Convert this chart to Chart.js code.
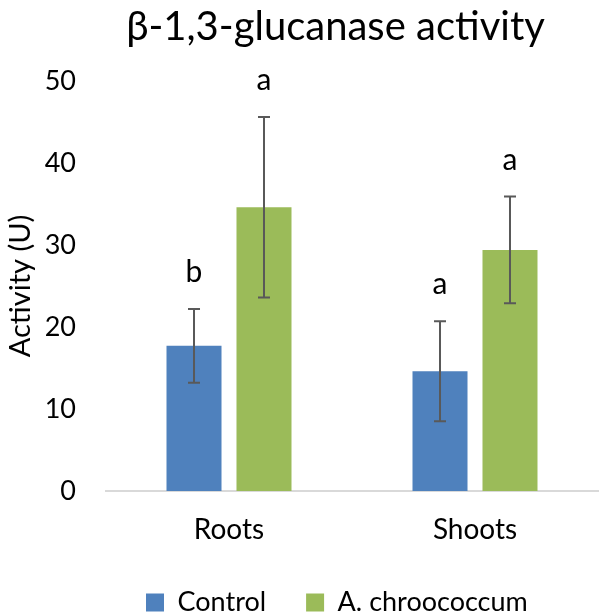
<!DOCTYPE html>
<html>
<head>
<meta charset="utf-8">
<script src="https://cdn.jsdelivr.net/npm/chart.js@4.4.0/dist/chart.umd.min.js"></script>
<style>
  html, body { margin: 0; padding: 0; background: #fff; }
  #wrap { width: 605px; height: 616px; }
</style>
</head>
<body>
<div id="wrap"><canvas id="chart"></canvas></div>
<script>
// data
var categories = ['Roots', 'Shoots'];
var controlValues = [17.7, 14.6];
var controlErr = [4.5, 6.1];
var controlLetters = ['b', 'a'];
var azotoValues = [34.6, 29.4];
var azotoErr = [11.0, 6.5];
var azotoLetters = ['a', 'a'];
var yTicks = [0, 10, 20, 30, 40, 50];
var chartTitle = 'β-1,3-glucanase activity';

var FONT = 'Lato, "Open Sans", sans-serif';

// title, centred a bit left of the plot like the original
var titlePlugin = {
    id: 'titlePlugin',
    afterDraw: function (chart) {
        var ctx = chart.ctx;
        ctx.save();
        ctx.fillStyle = '#000';
        ctx.font = '40px ' + FONT;
        ctx.textAlign = 'center';
        ctx.textBaseline = 'alphabetic';
        ctx.fillText(chartTitle, (chart.chartArea.left - 40 + chart.width) / 2, 40);
        ctx.restore();
    }
};

// error bars + significance letters
var errorBars = {
    id: 'errorBars',
    afterDatasetsDraw: function (chart) {
        var ctx = chart.ctx;
        var y = chart.scales.y;
        chart.data.datasets.forEach(function (ds, i) {
            var meta = chart.getDatasetMeta(i);
            meta.data.forEach(function (bar, j) {
                var v = ds.data[j], e = ds.err[j];
                var top = y.getPixelForValue(v + e);
                var bot = y.getPixelForValue(v - e);
                ctx.save();
                ctx.strokeStyle = '#595959';
                ctx.lineWidth = 2;
                ctx.beginPath();
                ctx.moveTo(bar.x, top); ctx.lineTo(bar.x, bot);
                ctx.moveTo(bar.x - 6, top); ctx.lineTo(bar.x + 6, top);
                ctx.moveTo(bar.x - 6, bot); ctx.lineTo(bar.x + 6, bot);
                ctx.stroke();
                ctx.fillStyle = '#000';
                ctx.font = '30px ' + FONT;
                ctx.textAlign = 'center';
                ctx.textBaseline = 'alphabetic';
                ctx.fillText(ds.letters[j], bar.x, top - 27);
                ctx.restore();
            });
        });
    }
};

var ctx = document.getElementById('chart').getContext('2d');
var myChart = new Chart(ctx, {
    type: 'bar',
    data: {
        labels: categories,
        datasets: [{
            label: 'Control',
            data: controlValues,
            err: controlErr,
            letters: controlLetters,
            backgroundColor: '#4F81BD',
            categoryPercentage: 0.569,
            barPercentage: 0.786
        }, {
            label: 'A. chroococcum',
            data: azotoValues,
            err: azotoErr,
            letters: azotoLetters,
            backgroundColor: '#9BBB59',
            categoryPercentage: 0.569,
            barPercentage: 0.786
        }]
    },
    options: {
        responsive: true,
        maintainAspectRatio: false,
        animation: false,
        layout: { padding: { left: 0, right: 7, top: 81, bottom: -10 } },
        scales: {
            x: {
                grid: { display: false, drawTicks: false },
                border: { display: true, color: '#D9D9D9', width: 2 },
                ticks: { color: '#000', font: { family: FONT, size: 28 }, padding: 22 },
                afterFit: function (scale) { scale.height = 58; }
            },
            y: {
                min: 0,
                max: 50,
                afterBuildTicks: function (scale) {
                    scale.ticks = yTicks.map(function (v) { return { value: v }; });
                },
                grid: { display: false, drawTicks: false },
                border: { display: false },
                ticks: { color: '#000', font: { family: FONT, size: 27 }, padding: 30 },
                title: {
                    display: true,
                    text: 'Activity (U)',
                    color: '#000',
                    font: { family: FONT, size: 29 },
                    padding: { top: 3, bottom: 0 }
                },
                afterFit: function (scale) { scale.width = 106; }
            }
        },
        plugins: {
            title: { display: false },
            legend: {
                position: 'bottom',
                fullSize: false,
                align: 'start',
                labels: {
                    color: '#000',
                    boxWidth: 18,
                    boxHeight: 18,
                    padding: 40,
                    font: { family: FONT, size: 27 }
                }
            },
            tooltip: { enabled: false }
        }
    },
    plugins: [errorBars, titlePlugin]
});
</script>
</body>
</html>
